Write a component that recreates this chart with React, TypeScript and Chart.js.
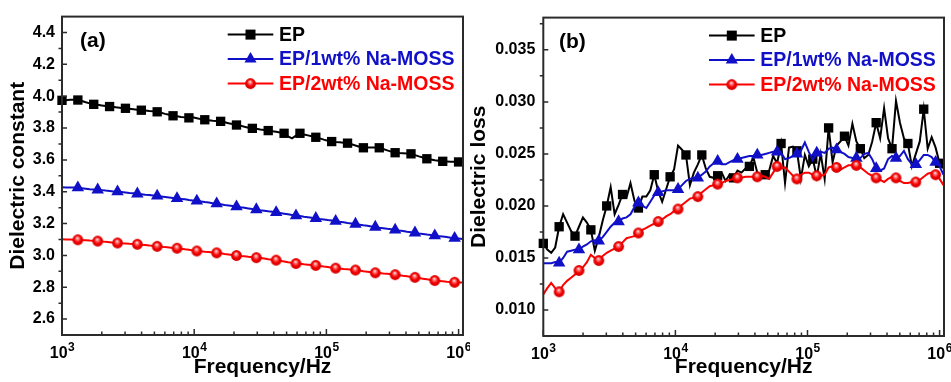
import React, { useEffect, useRef } from 'react';
import { Chart, registerables } from 'chart.js';

Chart.register(...registerables);

// ---------------- DATA ----------------
// Measurement frequencies (Hz), log-spaced sweep 10^3 ... ~1.07x10^6
const FREQ_HZ = [
  1000, 1072, 1148, 1230, 1318, 1413, 1514, 1622, 1738, 1862,
  1995, 2138, 2291, 2455, 2630, 2818, 3020, 3236, 3467, 3715,
  3981, 4266, 4571, 4898, 5248, 5623, 6026, 6457, 6918, 7413,
  7943, 8511, 9120, 9772, 10471, 11220, 12023, 12882, 13804, 14791,
  15849, 16982, 18197, 19498, 20893, 22387, 23988, 25704, 27542, 29512,
  31623, 33884, 36308, 38905, 41687, 44668, 47863, 51286, 54954, 58884,
  63096, 67608, 72444, 77625, 83176, 89125, 95499, 102329, 109648, 117490,
  125893, 134896, 144544, 154882, 165959, 177828, 190546, 204174, 218776, 234423,
  251189, 269153, 288403, 309030, 331131, 354813, 380189, 407380, 436516, 467735,
  501187, 537032, 575440, 616595, 660693, 707946, 758578, 812831, 870964, 933254,
  1000000, 1071519,
];

const SERIES_NAMES = ['EP', 'EP/1wt% Na-MOSS', 'EP/2wt% Na-MOSS'];

// (a) Dielectric constant
const EPS_EP = [
  3.974, 3.975, 3.977, 3.978, 3.976,
  3.970, 3.962, 3.955, 3.949,
  3.946, 3.942, 3.938, 3.935,
  3.932, 3.929, 3.926, 3.924,
  3.921, 3.918, 3.915, 3.912,
  3.910, 3.907, 3.905, 3.902,
  3.896, 3.889, 3.883, 3.877,
  3.874, 3.870, 3.867, 3.864,
  3.868, 3.862, 3.856, 3.852,
  3.849, 3.846, 3.844, 3.842,
  3.836, 3.830, 3.825, 3.819,
  3.815, 3.808, 3.802, 3.798,
  3.795, 3.791, 3.788, 3.784,
  3.780, 3.776, 3.772, 3.767,
  3.748, 3.735, 3.752, 3.767,
  3.760, 3.754, 3.748, 3.742,
  3.735, 3.727, 3.720, 3.715,
  3.712, 3.710, 3.708, 3.705,
  3.698, 3.690, 3.683, 3.676,
  3.677, 3.678, 3.677, 3.676,
  3.668, 3.660, 3.652, 3.645,
  3.643, 3.642, 3.640, 3.638,
  3.630, 3.622, 3.615, 3.607,
  3.603, 3.598, 3.594, 3.591,
  3.590, 3.589, 3.588, 3.587,
  3.585,
];
const EPS_1WT = [
  3.428, 3.427, 3.427, 3.426, 3.425,
  3.422, 3.419, 3.416, 3.414, 3.412,
  3.410, 3.407, 3.405, 3.402, 3.400,
  3.398, 3.395, 3.392, 3.390, 3.387,
  3.384, 3.381, 3.379, 3.376, 3.373,
  3.370, 3.367, 3.364, 3.361, 3.358,
  3.355, 3.352, 3.348, 3.345, 3.342,
  3.339, 3.335, 3.332, 3.328, 3.325,
  3.321, 3.317, 3.314, 3.310, 3.306,
  3.302, 3.299, 3.295, 3.291, 3.288,
  3.284, 3.281, 3.277, 3.274, 3.270,
  3.266, 3.262, 3.258, 3.254, 3.250,
  3.247, 3.243, 3.240, 3.236, 3.233,
  3.229, 3.226, 3.222, 3.219, 3.215,
  3.211, 3.208, 3.204, 3.201, 3.197,
  3.193, 3.189, 3.186, 3.182, 3.178,
  3.174, 3.171, 3.167, 3.164, 3.160,
  3.156, 3.153, 3.149, 3.146, 3.142,
  3.138, 3.135, 3.131, 3.128, 3.124,
  3.121, 3.118, 3.115, 3.111, 3.108,
  3.106, 3.103,
];
const EPS_2WT = [
  3.101, 3.100, 3.100, 3.099, 3.098,
  3.096, 3.095, 3.093, 3.092, 3.090,
  3.088, 3.085, 3.083, 3.080, 3.078,
  3.076, 3.075, 3.073, 3.072, 3.070,
  3.067, 3.065, 3.062, 3.060, 3.057,
  3.055, 3.052, 3.050, 3.047, 3.045,
  3.042, 3.038, 3.035, 3.031, 3.028,
  3.026, 3.023, 3.021, 3.018, 3.016,
  3.013, 3.009, 3.006, 3.002, 2.999,
  2.996, 2.994, 2.991, 2.989, 2.986,
  2.983, 2.980, 2.976, 2.973, 2.970,
  2.966, 2.962, 2.957, 2.953, 2.949,
  2.947, 2.944, 2.942, 2.939, 2.937,
  2.934, 2.930, 2.927, 2.923, 2.920,
  2.918, 2.915, 2.913, 2.910, 2.908,
  2.905, 2.901, 2.898, 2.894, 2.891,
  2.889, 2.886, 2.884, 2.881, 2.879,
  2.876, 2.872, 2.869, 2.865, 2.862,
  2.858, 2.854, 2.850, 2.846, 2.842,
  2.840, 2.838, 2.835, 2.833, 2.831,
  2.830, 2.829,
];

// (b) Dielectric loss
const LOSS_EP = [
  0.0164, 0.0158, 0.0155, 0.0160, 0.0180,
  0.0192, 0.0184, 0.0176, 0.0171,
  0.0180, 0.0189, 0.0184, 0.0177,
  0.0157, 0.0170, 0.0186, 0.0200,
  0.0218, 0.0192, 0.0201, 0.0211,
  0.0208, 0.0222, 0.0205, 0.0198,
  0.0209, 0.0209, 0.0215, 0.0230,
  0.0214, 0.0204, 0.0216, 0.0228,
  0.0235, 0.0258, 0.0254, 0.0249,
  0.0220, 0.0232, 0.0240, 0.0249,
  0.0236, 0.0228, 0.0227, 0.0229,
  0.0232, 0.0224, 0.0230, 0.0227,
  0.0234, 0.0232, 0.0236, 0.0238,
  0.0247, 0.0232, 0.0230, 0.0230,
  0.0234, 0.0248, 0.0241, 0.0260,
  0.0222, 0.0256, 0.0257, 0.0253,
  0.0226, 0.0249, 0.0238, 0.0245,
  0.0228, 0.0250, 0.0226, 0.0275,
  0.0242, 0.0258, 0.0262, 0.0267,
  0.0258, 0.0279, 0.0262, 0.0255,
  0.0246, 0.0249, 0.0262, 0.0280,
  0.0265, 0.0294, 0.0265, 0.0255,
  0.0301, 0.0280, 0.0265, 0.0260,
  0.0238, 0.0250, 0.0262, 0.0293,
  0.0255, 0.0266, 0.0256, 0.0241,
  0.0236,
];
const LOSS_1WT = [
  0.0145, 0.0145, 0.0145, 0.0146, 0.01453,
  0.0150, 0.0156, 0.0157, 0.0158, 0.0158,
  0.0161, 0.0163, 0.0166, 0.0167, 0.01665,
  0.0170, 0.0175, 0.0180, 0.0184, 0.0185,
  0.0188, 0.0189, 0.0192, 0.0199, 0.0203,
  0.0200, 0.0198, 0.0204, 0.0210, 0.0213,
  0.0214, 0.0215, 0.0215, 0.0215, 0.0216,
  0.0220, 0.0224, 0.0226, 0.0227, 0.0227,
  0.0230, 0.0233, 0.0238, 0.0241, 0.0243,
  0.0240, 0.0240, 0.0242, 0.0244, 0.0245,
  0.0246, 0.0247, 0.0248, 0.0248, 0.0249,
  0.0249, 0.0250, 0.0251, 0.0252, 0.0252,
  0.0251, 0.0245, 0.0246, 0.0248, 0.0250,
  0.0253, 0.0261, 0.0252, 0.0244, 0.0251,
  0.0252, 0.0251, 0.0255, 0.0256, 0.0254,
  0.0252, 0.0250, 0.0247, 0.0246, 0.0246,
  0.0246, 0.0250, 0.0251, 0.0245, 0.0236,
  0.0234, 0.0236, 0.0245, 0.0248, 0.0246,
  0.0248, 0.0253, 0.0245, 0.0240, 0.0240,
  0.0244, 0.0249, 0.0249, 0.0247, 0.0242,
  0.0238, 0.0230,
];
const LOSS_2WT = [
  0.0115, 0.0121, 0.0126, 0.0121, 0.01175,
  0.0124, 0.0128, 0.0131, 0.0134, 0.0138,
  0.0141, 0.0146, 0.0153, 0.0150, 0.01475,
  0.0152, 0.0155, 0.0157, 0.0159, 0.0161,
  0.0165, 0.0169, 0.0170, 0.0171, 0.0174,
  0.0177, 0.0179, 0.0181, 0.0183, 0.0185,
  0.0187, 0.0190, 0.0192, 0.0195, 0.0197,
  0.0201, 0.0204, 0.0207, 0.0208, 0.0209,
  0.0213, 0.0216, 0.0219, 0.0220, 0.0221,
  0.0222, 0.0224, 0.0225, 0.0226, 0.0227,
  0.0227, 0.0228, 0.0228, 0.0228, 0.0228,
  0.0229, 0.0228, 0.0226, 0.0232, 0.0238,
  0.0236, 0.0237, 0.0233, 0.0229, 0.0226,
  0.0230, 0.0232, 0.0232, 0.0230, 0.0229,
  0.0229, 0.0230, 0.0237, 0.0238, 0.0237,
  0.0235, 0.0237, 0.0239, 0.0239, 0.0239,
  0.0237, 0.0234, 0.0231, 0.0229, 0.0227,
  0.0225, 0.0223, 0.0226, 0.0228, 0.0227,
  0.0224, 0.0222, 0.0222, 0.0223, 0.0223,
  0.0225, 0.0228, 0.0231, 0.0232, 0.0230,
  0.0226, 0.0220,
];

const EPS_TICKS = [2.6, 2.8, 3.0, 3.2, 3.4, 3.6, 3.8, 4.0, 4.2, 4.4];
const EPS_MINOR = [2.7, 2.9, 3.1, 3.3, 3.5, 3.7, 3.9, 4.1, 4.3];
const LOSS_TICKS = [0.010, 0.015, 0.020, 0.025, 0.030, 0.035];
const LOSS_MINOR = [0.0125, 0.0175, 0.0225, 0.0275, 0.0325, 0.0375];
const X_DECADES = [3, 4, 5, 6];

// ---------------- STYLE ----------------
const FONT = "'Liberation Sans', Arial, Helvetica, sans-serif";
const COLORS = ['#000000', '#1010c8', '#ff0000'];
const AXIS_COLOR = '#2b2b2b';

function makeSphere(r: number): HTMLCanvasElement {
  const c = document.createElement('canvas');
  const s = Math.ceil(r * 2 + 2);
  c.width = s;
  c.height = s;
  const g = c.getContext('2d')!;
  const cx = s / 2;
  const cy = s / 2;
  const grad = g.createRadialGradient(cx - r * 0.1, cy - r * 0.35, 0.2, cx, cy, r);
  grad.addColorStop(0, '#ffe8e8');
  grad.addColorStop(0.28, '#ff6a6a');
  grad.addColorStop(0.6, '#f40000');
  grad.addColorStop(1, '#d20000');
  g.fillStyle = grad;
  g.beginPath();
  g.arc(cx, cy, r, 0, Math.PI * 2);
  g.fill();
  return c;
}

function isMarker(series: number, i: number) {
  return series === 0 ? i % 4 === 0 : i % 5 === 4;
}

function drawLegendMarker(ctx: CanvasRenderingContext2D, s: number, x: number, y: number, sphere: HTMLCanvasElement) {
  ctx.fillStyle = COLORS[s];
  if (s === 0) {
    ctx.fillRect(x - 5, y - 5, 10, 10);
  } else if (s === 1) {
    const r = 7;
    ctx.beginPath();
    ctx.moveTo(x, y - r);
    ctx.lineTo(x + r * 0.866, y + r * 0.5);
    ctx.lineTo(x - r * 0.866, y + r * 0.5);
    ctx.closePath();
    ctx.fill();
  } else {
    ctx.drawImage(sphere, x - sphere.width / 2, y - sphere.height / 2);
  }
}

const decorPlugin = {
  id: 'decor',
  afterDraw(chart: any, _args: any, o: any) {
    const ctx: CanvasRenderingContext2D = chart.ctx;
    const a = chart.chartArea;
    const xs = chart.scales.x;
    const ys = chart.scales.y;
    ctx.save();
    ctx.strokeStyle = AXIS_COLOR;
    ctx.lineWidth = 1.5;
    // x ticks (inside)
    ctx.beginPath();
    for (const d of X_DECADES) {
      for (let m = 1; m <= 9; m++) {
        const v = m * Math.pow(10, d);
        if (v > xs.max) break;
        const px = xs.getPixelForValue(v);
        const len = m === 1 ? 6 : 3.5;
        ctx.moveTo(px, a.bottom);
        ctx.lineTo(px, a.bottom - len);
      }
    }
    // y major ticks (inside) and minor (outside)
    for (const v of o.yMajor) {
      const py = ys.getPixelForValue(v);
      ctx.moveTo(a.left, py);
      ctx.lineTo(a.left + 5, py);
    }
    for (const v of o.yMinor) {
      const py = ys.getPixelForValue(v);
      ctx.moveTo(a.left - 3.5, py);
      ctx.lineTo(a.left, py);
    }
    ctx.stroke();
    // frame
    ctx.lineWidth = 2;
    ctx.strokeRect(a.left, a.top, a.right - a.left, a.bottom - a.top);

    // x tick labels 10^n
    ctx.fillStyle = '#000';
    ctx.textBaseline = 'alphabetic';
    ctx.textAlign = 'left';
    for (const d of X_DECADES) {
      const px = xs.getPixelForValue(Math.pow(10, d));
      ctx.font = `bold 16px ${FONT}`;
      const w1 = ctx.measureText('10').width;
      ctx.font = `bold 12px ${FONT}`;
      const w2 = ctx.measureText(String(d)).width;
      const start = px - (w1 + w2) / 2;
      ctx.font = `bold 16px ${FONT}`;
      ctx.fillText('10', start, a.bottom + 23);
      ctx.font = `bold 12px ${FONT}`;
      ctx.fillText(String(d), start + w1 + 0.5, a.bottom + 16);
    }

    // panel label
    ctx.font = `bold 21px ${FONT}`;
    ctx.textBaseline = 'middle';
    ctx.fillStyle = '#000';
    ctx.fillText(o.panel, a.left + o.panelDx, a.top + 25);

    // legend
    const sphere: HTMLCanvasElement = o.sphere;
    const rows = [18, 42.5, 67];
    ctx.font = `bold 19.5px ${FONT}`;
    for (let s = 0; s < 3; s++) {
      const y = a.top + rows[s];
      ctx.strokeStyle = COLORS[s];
      ctx.lineWidth = 2;
      ctx.beginPath();
      ctx.moveTo(a.left + 165.7, y);
      ctx.lineTo(a.left + 211.3, y);
      ctx.stroke();
      drawLegendMarker(ctx, s, a.left + 188.5, y, sphere);
      ctx.fillStyle = COLORS[s];
      ctx.fillText(SERIES_NAMES[s], a.left + 217, y + 1);
    }
    ctx.restore();
  },
};

function buildConfig(p: {
  values: number[][];
  yMin: number;
  yMax: number;
  yTicks: number[];
  yMinor: number[];
  decimals: number;
  yTitle: string;
  yWidth: number;
  xHeight: number;
  padTop: number;
  titlePad: number;
  labelPad: number;
  panel: string;
  panelDx: number;
  sphere: HTMLCanvasElement;
}): any {
  const datasets = p.values.map((vals, s) => ({
    label: SERIES_NAMES[s],
    data: FREQ_HZ.map((f, i) => ({ x: f, y: vals[i] })),
    borderColor: COLORS[s],
    backgroundColor: COLORS[s],
    borderWidth: 2,
    pointStyle: s === 2 ? p.sphere : s === 1 ? 'triangle' : 'rect',
    pointRadius: (c: any) => (isMarker(s, c.dataIndex) ? (s === 0 ? 6.6 : s === 1 ? 7.2 : 5.5) : 0),
    pointHoverRadius: 0,
    pointBorderWidth: 0,
    tension: 0,
    clip: false,
    order: 3 - s,
  }));
  return {
    type: 'line',
    data: { datasets },
    options: {
      responsive: false,
      animation: false,
      devicePixelRatio: 1,
      layout: { padding: { left: 0, top: p.padTop, right: 7, bottom: 0 } },
      plugins: {
        legend: { display: false },
        tooltip: { enabled: false },
        decor: { yMajor: p.yTicks, yMinor: p.yMinor, panel: p.panel, panelDx: p.panelDx, sphere: p.sphere },
      },
      scales: {
        x: {
          type: 'logarithmic',
          min: 1000,
          max: 1.08e6,
          grid: { display: false, drawTicks: false, tickLength: 0 },
          border: { display: false },
          ticks: { display: false },
          title: {
            display: true,
            text: 'Frequency/Hz',
            color: '#000',
            font: { family: FONT, size: 21, weight: 'bold' },
            padding: { top: 0, bottom: 2 },
          },
          afterFit: (s: any) => {
            s.height = p.xHeight;
          },
        },
        y: {
          type: 'linear',
          min: p.yMin,
          max: p.yMax,
          grid: { display: false, drawTicks: false, tickLength: 0 },
          border: { display: false },
          afterBuildTicks: (s: any) => {
            s.ticks = p.yTicks.map((v) => ({ value: v }));
          },
          ticks: {
            autoSkip: false,
            color: '#000',
            padding: p.labelPad,
            font: { family: FONT, size: 16, weight: 'bold' },
            callback: (v: any) => Number(v).toFixed(p.decimals),
          },
          title: {
            display: true,
            text: p.yTitle,
            color: '#000',
            font: { family: FONT, size: 21, weight: 'bold' },
            padding: { top: p.titlePad, bottom: 0 },
          },
          afterFit: (s: any) => {
            s.width = p.yWidth;
          },
        },
      },
    },
    plugins: [decorPlugin],
  };
}

export default function App() {
  const refA = useRef<HTMLCanvasElement>(null);
  const refB = useRef<HTMLCanvasElement>(null);

  useEffect(() => {
    const sphere = makeSphere(5.4);
    const chartA = new Chart(
      refA.current!,
      buildConfig({
        values: [EPS_EP, EPS_1WT, EPS_2WT],
        yMin: 2.5,
        yMax: 4.5,
        yTicks: EPS_TICKS,
        yMinor: EPS_MINOR,
        decimals: 1,
        yTitle: 'Dielectric constant',
        yWidth: 62,
        xHeight: 47,
        padTop: 13,
        titlePad: 5.6,
        labelPad: 7,
        panel: '(a)',
        panelDx: 18,
        sphere,
      })
    );
    const chartB = new Chart(
      refB.current!,
      buildConfig({
        values: [LOSS_EP, LOSS_1WT, LOSS_2WT],
        yMin: 0.0075,
        yMax: 0.0381,
        yTicks: LOSS_TICKS,
        yMinor: LOSS_MINOR,
        decimals: 3,
        yTitle: 'Dielectric loss',
        yWidth: 83.3,
        xHeight: 46,
        padTop: 13.3,
        titlePad: 6.8,
        labelPad: 8,
        panel: '(b)',
        panelDx: 15.7,
        sphere,
      })
    );
    return () => {
      chartA.destroy();
      chartB.destroy();
    };
  }, []);

  return (
    <div style={{ position: 'absolute', left: 0, top: 0, width: 951, height: 382, background: '#fff' }}>
      <canvas ref={refA} width={470} height={382} style={{ position: 'absolute', left: 0, top: 0 }} />
      <canvas ref={refB} width={491} height={382} style={{ position: 'absolute', left: 460, top: 0 }} />
    </div>
  );
}
